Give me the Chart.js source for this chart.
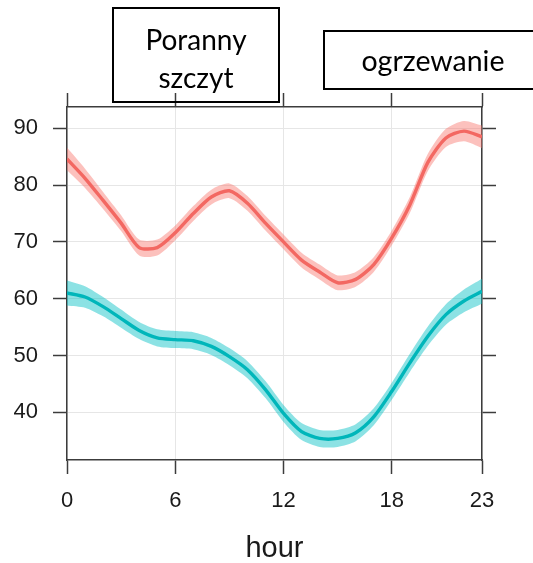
<!DOCTYPE html>
<html>
<head>
<meta charset="utf-8">
<script src="https://cdn.jsdelivr.net/npm/chart.js@4.4.1/dist/chart.umd.min.js"></script>
<style>
  html, body { margin: 0; padding: 0; background: #fff; overflow: hidden; }
  #wrap { position: relative; width: 533px; height: 563px; overflow: hidden; }
  #wrap canvas { position: absolute; left: 0; top: 0; }
  .note {
    position: absolute; box-sizing: border-box; border: 2px solid #000;
    font-family: Lato, "Noto Sans", sans-serif; font-size: 28px; color: #000;
    text-align: center; pointer-events: none;
  }
</style>
</head>
<body>
<div id="wrap">
  <canvas id="chart" width="533" height="563"></canvas>
  <div class="note" id="note1" style="left:112px; top:7px; width:168px; height:96px; line-height:38px; padding-top:11px;">Poranny<br>szczyt</div>
  <div class="note" id="note2" style="left:323px; top:30px; width:220px; height:60px; line-height:56px; font-size:28.5px;">ogrzewanie</div>
</div>
<script>
// Hour of day
const hours = [0, 1, 2, 3, 4, 5, 6, 7, 8, 9, 10, 11, 12, 13, 14, 15, 16, 17, 18, 19, 20, 21, 22, 23];

// Upper series: fitted mean and confidence band
const redMean  = [84.6, 81.2, 77.3, 73.3, 69.0, 69.0, 71.6, 75.0, 77.9, 79.0, 76.8, 73.3, 70.0, 66.8, 64.7, 62.8, 63.4, 66.0, 70.7, 76.5, 84.0, 88.3, 89.5, 88.5];
const redUpper = [86.6, 82.9, 78.8, 74.7, 70.4, 70.4, 72.9, 76.3, 79.2, 80.3, 78.1, 74.6, 71.3, 68.1, 66.0, 64.1, 64.7, 67.3, 72.0, 77.9, 85.5, 89.9, 91.3, 90.5];
const redLower = [82.6, 79.5, 75.8, 71.9, 67.6, 67.6, 70.3, 73.7, 76.6, 77.7, 75.5, 72.0, 68.7, 65.5, 63.4, 61.5, 62.1, 64.7, 69.4, 75.1, 82.5, 86.7, 87.7, 86.5];

// Lower series: fitted mean and confidence band
const tealMean  = [61.0, 60.3, 58.6, 56.5, 54.4, 53.1, 52.8, 52.6, 51.6, 49.8, 47.5, 44.0, 39.8, 36.6, 35.4, 35.4, 36.4, 39.2, 43.7, 48.7, 53.4, 57.2, 59.6, 61.3];
const tealUpper = [63.2, 62.2, 60.3, 58.1, 55.9, 54.6, 54.3, 54.1, 53.1, 51.3, 49.0, 45.5, 41.3, 38.1, 36.9, 36.9, 37.9, 40.7, 45.2, 50.3, 55.1, 59.0, 61.6, 63.5];
const tealLower = [58.8, 58.4, 56.9, 54.9, 52.9, 51.6, 51.3, 51.1, 50.1, 48.3, 46.0, 42.5, 38.3, 35.1, 33.9, 33.9, 34.9, 37.7, 42.2, 47.1, 51.7, 55.4, 57.6, 59.1];

// Axis ticks
const xTicks = [0, 6, 12, 18, 23];
const yTicks = [40, 50, 60, 70, 80, 90];

const pts = arr => arr.map((v, i) => ({ x: hours[i], y: v }));

const RED_LINE = 'rgb(243,104,98)';
const RED_BAND = 'rgba(248,118,109,0.45)';
const TEAL_LINE = 'rgb(0,182,186)';
const TEAL_BAND = 'rgba(0,191,196,0.45)';
const AXIS = '#3c3c3c';
const GRID = '#e6e6e6';
const FONT = "'Liberation Sans', Arial, Helvetica, sans-serif";

const band = (data, color, fill) => ({
  data: pts(data), borderWidth: 0, borderColor: 'transparent', backgroundColor: color,
  fill: fill, pointRadius: 0, tension: 0.25, order: 2, xAxisID: 'x', yAxisID: 'y'
});
const line = (data, color) => ({
  data: pts(data), borderWidth: 3.4, borderColor: color, fill: false,
  pointRadius: 0, tension: 0.25, order: 0, xAxisID: 'x', yAxisID: 'y'
});

const setX = s => { s.ticks = xTicks.map(v => ({ value: v })); };
const setY = s => { s.ticks = yTicks.map(v => ({ value: v })); };

Chart.defaults.font.family = FONT;

new Chart(document.getElementById('chart'), {
  type: 'line',
  data: {
    datasets: [
      band(redUpper, RED_BAND, 1),
      band(redLower, 'transparent', false),
      band(tealUpper, TEAL_BAND, 3),
      band(tealLower, 'transparent', false),
      line(redMean, RED_LINE),
      line(tealMean, TEAL_LINE)
    ]
  },
  options: {
    responsive: false,
    devicePixelRatio: 1,
    animation: false,
    layout: { padding: 0 },
    plugins: { legend: { display: false }, tooltip: { enabled: false } },
    scales: {
      x: {
        type: 'linear', position: 'bottom', min: 0, max: 23,
        afterBuildTicks: setX,
        afterFit: s => { s.height = 103; },
        grid: { color: GRID, lineWidth: 1, tickLength: 14, tickColor: AXIS, tickWidth: 1.5 },
        border: { color: AXIS, width: 1.5 },
        ticks: { font: { family: FONT, size: 22 }, color: '#1a1a1a', padding: 14, maxRotation: 0, autoSkip: false },
        title: { display: true, text: 'hour', color: '#1a1a1a', font: { family: FONT, size: 29 }, padding: { top: 0, bottom: -3 } }
      },
      x2: {
        type: 'linear', position: 'top', min: 0, max: 23,
        afterBuildTicks: setX,
        afterFit: s => { s.height = 107; },
        grid: { drawOnChartArea: false, tickLength: 14, tickColor: AXIS, tickWidth: 1.5 },
        border: { color: AXIS, width: 1.5 },
        ticks: { display: false }
      },
      y: {
        type: 'linear', position: 'left', min: 31.6, max: 93.75,
        afterBuildTicks: setY,
        afterFit: s => { s.width = 67; },
        grid: { color: GRID, lineWidth: 1, tickLength: 14, tickColor: AXIS, tickWidth: 1.5 },
        border: { color: AXIS, width: 1.5 },
        ticks: { font: { family: FONT, size: 22 }, color: '#1a1a1a', padding: 15 }
      },
      y2: {
        type: 'linear', position: 'right', min: 31.6, max: 93.75,
        afterBuildTicks: setY,
        afterFit: s => { s.width = 51; },
        grid: { drawOnChartArea: false, tickLength: 14, tickColor: AXIS, tickWidth: 1.5 },
        border: { color: AXIS, width: 1.5 },
        ticks: { display: false }
      }
    }
  }
});
</script>
</body>
</html>
